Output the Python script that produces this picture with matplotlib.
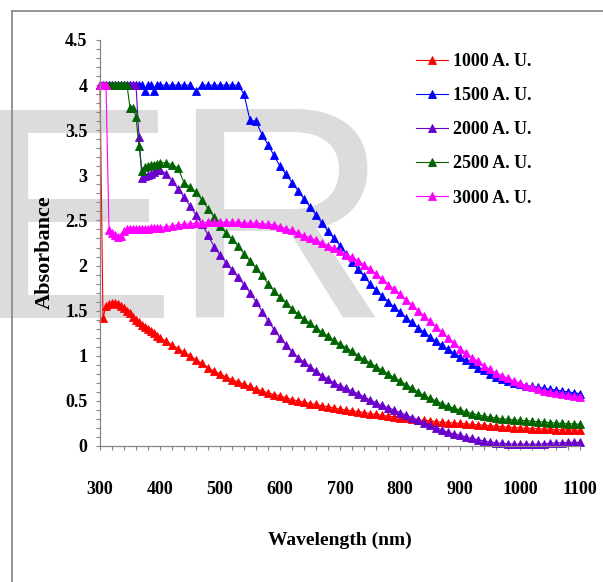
# Absorbance spectra for five doses, drawn Excel style with triangle markers
import matplotlib.pyplot as plt
from matplotlib.lines import Line2D
from matplotlib.ticker import MultipleLocator

plt.rcParams['font.family'] = ['Liberation Serif', 'DejaVu Serif']
plt.rcParams['font.weight'] = 'bold'

# wavelength grid (nm): 5 nm steps up to 395, then 10 nm steps
wavelength = list(range(300, 400, 5)) + list(range(400, 1101, 10))

abs_1000 = [4.0, 1.42, 1.55, 1.57, 1.58, 1.58, 1.57, 1.55, 1.53, 1.50,
            1.47, 1.43, 1.40, 1.37, 1.34, 1.32, 1.30, 1.28, 1.25, 1.22,
            1.20, 1.16, 1.12, 1.08, 1.04, 1.00, 0.955, 0.915, 0.87, 0.83,
            0.80, 0.765, 0.735, 0.71, 0.685, 0.66, 0.635, 0.61, 0.59, 0.57,
            0.555, 0.535, 0.515, 0.50, 0.485, 0.47, 0.46, 0.445, 0.435, 0.42,
            0.41, 0.40, 0.39, 0.38, 0.37, 0.36, 0.35, 0.34, 0.33, 0.325,
            0.315, 0.305, 0.30, 0.29, 0.285, 0.28, 0.27, 0.265, 0.26, 0.255,
            0.25, 0.245, 0.24, 0.235, 0.23, 0.225, 0.22, 0.215, 0.21, 0.205,
            0.20, 0.197, 0.193, 0.19, 0.187, 0.185, 0.182, 0.18, 0.178, 0.176,
            0.174]

abs_1500 = [4.0, 4.0, 4.0, 4.0, 4.0, 4.0, 4.0, 4.0, 4.0, 4.0,
            4.0, 4.0, 4.0, 4.0, 4.0, 3.94, 4.0, 4.0, 3.94, 4.0,
            4.0, 4.0, 4.0, 4.0, 4.0, 4.0, 3.94, 4.0, 4.0, 4.0,
            4.0, 4.0, 4.0, 4.0, 3.9, 3.61, 3.6, 3.45, 3.34, 3.22,
            3.10, 3.01, 2.92, 2.83, 2.74, 2.65, 2.56, 2.47, 2.38, 2.30,
            2.22, 2.13, 2.04, 1.96, 1.88, 1.80, 1.73, 1.66, 1.60, 1.54,
            1.48, 1.42, 1.37, 1.31, 1.26, 1.21, 1.16, 1.12, 1.07, 1.03,
            0.99, 0.95, 0.91, 0.87, 0.84, 0.80, 0.77, 0.745, 0.72, 0.70,
            0.685, 0.67, 0.66, 0.65, 0.64, 0.63, 0.62, 0.61, 0.60, 0.59,
            0.58]

abs_2000 = [4.0, 4.0, 4.0, 4.0, 4.0, 4.0, 4.0, 4.0, 4.0, 4.0,
            4.0, 4.0, 4.0, 3.42, 2.97, 2.99, 3.00, 3.02, 3.04, 3.06,
            3.06, 3.02, 2.94, 2.85, 2.76, 2.66, 2.56, 2.46, 2.34, 2.21,
            2.12, 2.03, 1.95, 1.87, 1.79, 1.70, 1.60, 1.49, 1.39, 1.29,
            1.20, 1.12, 1.04, 0.98, 0.93, 0.88, 0.83, 0.78, 0.74, 0.70,
            0.67, 0.64, 0.61, 0.58, 0.545, 0.51, 0.48, 0.45, 0.425, 0.40,
            0.37, 0.345, 0.315, 0.29, 0.26, 0.23, 0.205, 0.18, 0.15, 0.135,
            0.12, 0.10, 0.085, 0.07, 0.055, 0.045, 0.035, 0.03, 0.025, 0.02,
            0.02, 0.02, 0.02, 0.02, 0.025, 0.03, 0.035, 0.035, 0.04, 0.04,
            0.04]

abs_2500 = [4.0, 4.0, 4.0, 4.0, 4.0, 4.0, 4.0, 4.0, 4.0, 4.0,
            3.75, 3.75, 3.65, 3.32, 3.05, 3.09, 3.10, 3.11, 3.12, 3.13,
            3.14, 3.14, 3.12, 3.08, 2.92, 2.87, 2.81, 2.73, 2.63, 2.54,
            2.44, 2.36, 2.29, 2.22, 2.13, 2.05, 1.97, 1.89, 1.80, 1.72,
            1.65, 1.59, 1.52, 1.46, 1.41, 1.36, 1.31, 1.26, 1.22, 1.17,
            1.13, 1.09, 1.05, 1.00, 0.96, 0.92, 0.88, 0.84, 0.80, 0.76,
            0.72, 0.68, 0.64, 0.60, 0.56, 0.53, 0.50, 0.47, 0.44, 0.42,
            0.40, 0.38, 0.36, 0.345, 0.33, 0.32, 0.31, 0.30, 0.295, 0.29,
            0.285, 0.28, 0.275, 0.27, 0.265, 0.26, 0.255, 0.25, 0.245, 0.245,
            0.24]

abs_3000 = [4.0, 4.0, 4.0, 2.39, 2.36, 2.34, 2.32, 2.33, 2.38, 2.40,
            2.40, 2.40, 2.40, 2.41, 2.41, 2.41, 2.41, 2.42, 2.42, 2.42,
            2.42, 2.43, 2.44, 2.45, 2.46, 2.46, 2.47, 2.47, 2.48, 2.48,
            2.48, 2.48, 2.48, 2.48, 2.47, 2.47, 2.47, 2.46, 2.46, 2.45,
            2.43, 2.41, 2.39, 2.36, 2.33, 2.31, 2.28, 2.25, 2.22, 2.19,
            2.16, 2.12, 2.09, 2.05, 2.01, 1.96, 1.91, 1.85, 1.79, 1.74,
            1.68, 1.62, 1.56, 1.50, 1.44, 1.38, 1.32, 1.26, 1.20, 1.14,
            1.08, 1.03, 0.98, 0.94, 0.89, 0.85, 0.81, 0.78, 0.75, 0.72,
            0.695, 0.67, 0.65, 0.63, 0.615, 0.60, 0.585, 0.575, 0.565, 0.555,
            0.545]

series_names = ['1000 A. U.', '1500 A. U.', '2000 A. U.', '2500 A. U.', '3000 A. U.']
series_values = [abs_1000, abs_1500, abs_2000, abs_2500, abs_3000]
series_colors = ['#ff0000', '#0000ff', '#6a00cc', '#006400', '#ff00ff']

x_ticks = [300, 400, 500, 600, 700, 800, 900, 1000, 1100]
x_tick_labels = ['300', '400', '500', '600', '700', '800', '900', '1000', '1100']
y_ticks = [0, 0.5, 1, 1.5, 2, 2.5, 3, 3.5, 4, 4.5]
y_tick_labels = ['0', '0.5', '1', '1.5', '2', '2.5', '3', '3.5', '4', '4.5']

W, H = 603, 582
fig = plt.figure(figsize=(W / 100, H / 100), dpi=100)
ax = fig.add_axes([100 / W, 136 / H, 480 / W, 406 / H])
ax.patch.set_alpha(0)

# faint grey lettering behind the plot
wm = dict(family='Liberation Sans', weight='normal', fontsize=218, color='#dcdcdc',
          zorder=-5, ha='left', va='baseline')
fig.text(-26 / W, 1 - 318 / H, 'E', **wm)
fig.text(170 / W, 1 - 318 / H, 'R', **wm)

# page frame on the left and top
fig.add_artist(Line2D([12 / W, 12 / W], [0, 1 - 11 / H], transform=fig.transFigure,
                      color='#8c8c8c', lw=1.3))
fig.add_artist(Line2D([12 / W, 1], [1 - 11 / H, 1 - 11 / H], transform=fig.transFigure,
                      color='#8c8c8c', lw=1.3))

for name, vals, c in zip(series_names, series_values, series_colors):
    ax.plot(wavelength, vals, color=c, lw=0.8, marker='^', ms=5.5, mec=c, mew=0.6,
            label=name, clip_on=False)

ax.set_xlim(300, 1100)
ax.set_ylim(0, 4.5)
ax.set_xticks(x_ticks)
ax.set_xticklabels(x_tick_labels)
ax.xaxis.set_minor_locator(MultipleLocator(20))
ax.set_yticks(y_ticks)
ax.set_yticklabels(y_tick_labels)
ax.yaxis.set_minor_locator(MultipleLocator(0.1))

for s in ['top', 'right']:
    ax.spines[s].set_visible(False)
for s in ['left', 'bottom']:
    ax.spines[s].set_color('#868686')
    ax.spines[s].set_linewidth(0.9)

ax.tick_params(which='both', direction='out', length=3, width=0.8, color='#868686',
               labelsize=13)
ax.tick_params(axis='x', which='major', pad=22)
ax.tick_params(axis='y', which='major', pad=6)

fig.text(45 / W, 1 - 252 / H, 'Absorbance', rotation=90, ha='center', va='center',
         fontsize=16)
fig.text(340 / W, 1 - 540 / H, 'Wavelength (nm)', ha='center', va='center', fontsize=14)

ax.legend(loc='upper left', bbox_to_anchor=(416 / W, 1 - 53 / H),
          bbox_transform=fig.transFigure, frameon=False,
          prop=dict(family='Liberation Serif', weight='bold', size=13),
          handlelength=1.75, handletextpad=0.3, labelspacing=0.95, numpoints=1,
          borderaxespad=0, borderpad=0)

fig.savefig('out.png', dpi=100)
